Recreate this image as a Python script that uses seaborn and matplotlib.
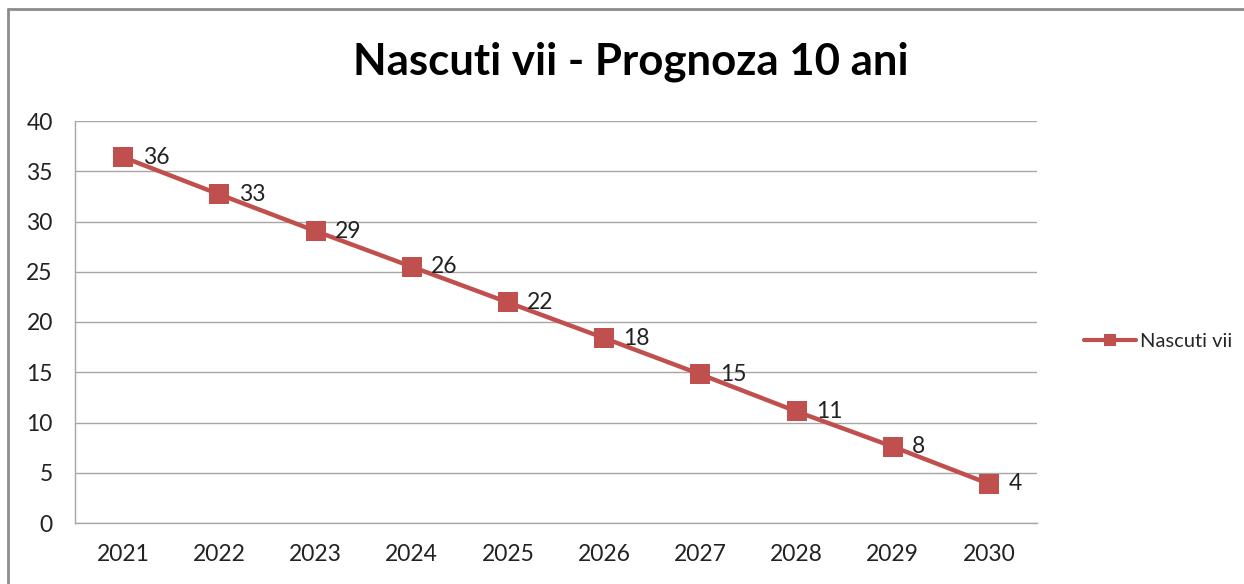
import matplotlib.pyplot as plt
import matplotlib.lines as mlines
import seaborn as sns
import pandas as pd

# Data
years = [2021, 2022, 2023, 2024, 2025, 2026, 2027, 2028, 2029, 2030]
nascuti_vii = [36.4, 32.7, 29.05, 25.5, 21.95, 18.4, 14.8, 11.1, 7.6, 3.9]
value_labels = ['36', '33', '29', '26', '22', '18', '15', '11', '8', '4']
y_ticks = [0, 5, 10, 15, 20, 25, 30, 35, 40]

df = pd.DataFrame({'An': years, 'Nascuti vii': nascuti_vii})

sns.set_style('white')
plt.rcParams['font.family'] = ['Lato', 'DejaVu Sans']

color = '#C0504D'
grid_color = '#A6A6A6'
text_color = '#222222'

dpi = 100
fig = plt.figure(figsize=(1244 / dpi, 584 / dpi), dpi=dpi)
ax = fig.add_axes([75 / 1244, 1 - 523 / 584, (1037 - 75) / 1244, (523 - 121) / 584])

sns.lineplot(data=df, x='An', y='Nascuti vii', ax=ax, color=color, linewidth=3.2,
             marker='s', markersize=14.5, markeredgewidth=0, legend=False)

# Axes
ax.set_xlim(years[0] - 0.5, years[-1] + 0.5)
ax.set_ylim(0, 40)
ax.set_xticks(years)
ax.set_xticklabels([str(y) for y in years], fontsize=16.5, color=text_color)
ax.set_yticks(y_ticks)
ax.set_yticklabels([str(t) for t in y_ticks], fontsize=16.5, color=text_color)
ax.tick_params(axis='x', length=0, pad=15)
ax.tick_params(axis='y', length=0, pad=16)
ax.set_xlabel('')
ax.set_ylabel('')
ax.yaxis.grid(True, color=grid_color, linewidth=1)
ax.set_axisbelow(True)
for side in ['top', 'right']:
    ax.spines[side].set_visible(False)
for side in ['left', 'bottom']:
    ax.spines[side].set_color(grid_color)
    ax.spines[side].set_linewidth(1)

# Data labels
for x, y, lab in zip(years, nascuti_vii, value_labels):
    ax.annotate(lab, (x, y), xytext=(14, 0), textcoords='offset points',
                ha='left', va='center', fontsize=16.5, color=text_color)

# Title
fig.text(631 / 1244, 1 - 62 / 584, 'Nascuti vii - Prognoza 10 ani', ha='center', va='center',
         fontsize=31.5, fontweight='bold', color='black')

# Legend
handle = mlines.Line2D([], [], color=color, linewidth=3, marker='s', markersize=8,
                       markeredgewidth=0, label='Nascuti vii')
fig.legend(handles=[handle], loc='center left', bbox_to_anchor=(1066 / 1244, 1 - 341 / 584),
           frameon=False, fontsize=14.5, handlelength=2.6, handletextpad=0.15)

# Chart area border (top and left visible)
fig.add_artist(mlines.Line2D([8 / 1244, 1], [1 - 8.5 / 584, 1 - 8.5 / 584],
                             transform=fig.transFigure, color='#8C8C8C', linewidth=2))
fig.add_artist(mlines.Line2D([8 / 1244, 8 / 1244], [0, 1 - 8.5 / 584],
                             transform=fig.transFigure, color='#8C8C8C', linewidth=2))

plt.savefig('out.png', dpi=dpi)
